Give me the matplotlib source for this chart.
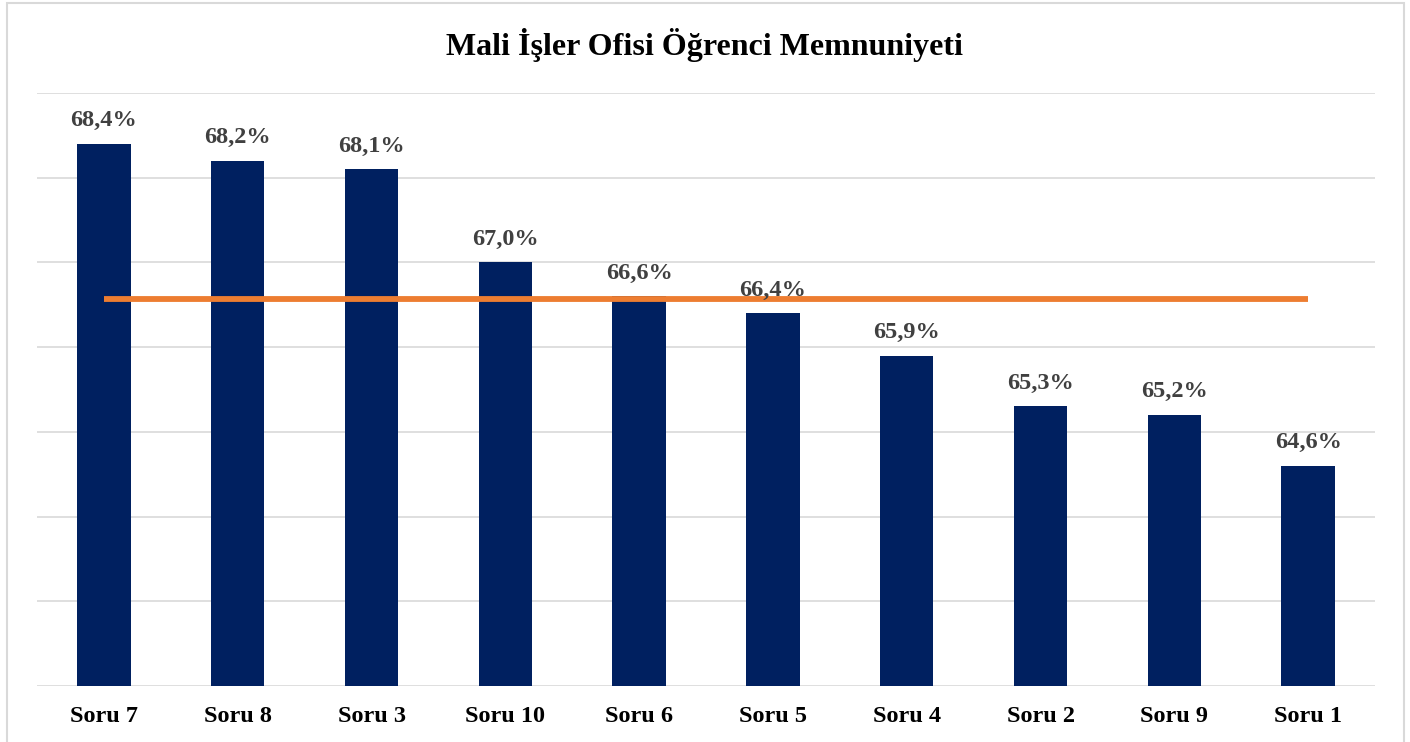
import matplotlib.pyplot as plt
from matplotlib.patches import Rectangle

# data
kategoriler = ["Soru 7", "Soru 8", "Soru 3", "Soru 10", "Soru 6",
               "Soru 5", "Soru 4", "Soru 2", "Soru 9", "Soru 1"]
degerler = [68.4, 68.2, 68.1, 67.0, 66.6, 66.4, 65.9, 65.3, 65.2, 64.6]
ortalama = sum(degerler) / len(degerler)

plt.rcParams['font.family'] = ['Liberation Serif', 'DejaVu Serif']

fig = plt.figure(figsize=(14.1, 7.42), dpi=100)
ax = fig.add_axes([37/1410, (742-686)/742, (1375-37)/1410, (686-93)/742])

x = range(len(kategoriler))
ax.bar(x, degerler, width=0.4, color="#002060", zorder=2)
ax.plot([0, len(kategoriler)-1], [ortalama, ortalama], color="#ED7D31",
        linewidth=4.2, solid_capstyle="butt", zorder=3)

for i, v in enumerate(degerler):
    ax.annotate(f"{v:.1f}%".replace(".", ","), (i, v), xytext=(0, 9),
                textcoords="offset points", ha="center", va="bottom",
                fontsize=17.5, fontweight="bold", color="#404040", zorder=4)

ax.set_xlim(-0.5, len(kategoriler)-0.5)
ax.set_ylim(62, 69)
ax.set_yticks(range(62, 70))
ax.yaxis.grid(True, color="#D9D9D9", linewidth=1.2, zorder=0)
ax.tick_params(axis="y", left=False, labelleft=False)
ax.tick_params(axis="x", bottom=False, pad=11)
ax.set_xticks(list(x))
ax.set_xticklabels(kategoriler, fontsize=17.5, fontweight="bold")
for s in ax.spines.values():
    s.set_visible(False)

fig.text(705/1410, 1 - 45/742, "Mali İşler Ofisi Öğrenci Memnuniyeti",
         ha="center", va="center", fontsize=23, fontweight="bold")

fig.patches.append(Rectangle((7/1410, -0.05), (1404-7)/1410, 1.05 - 3/742,
                             transform=fig.transFigure, fill=False,
                             edgecolor="#D9D9D9", linewidth=1.5))

fig.savefig("out.png", dpi=100)
